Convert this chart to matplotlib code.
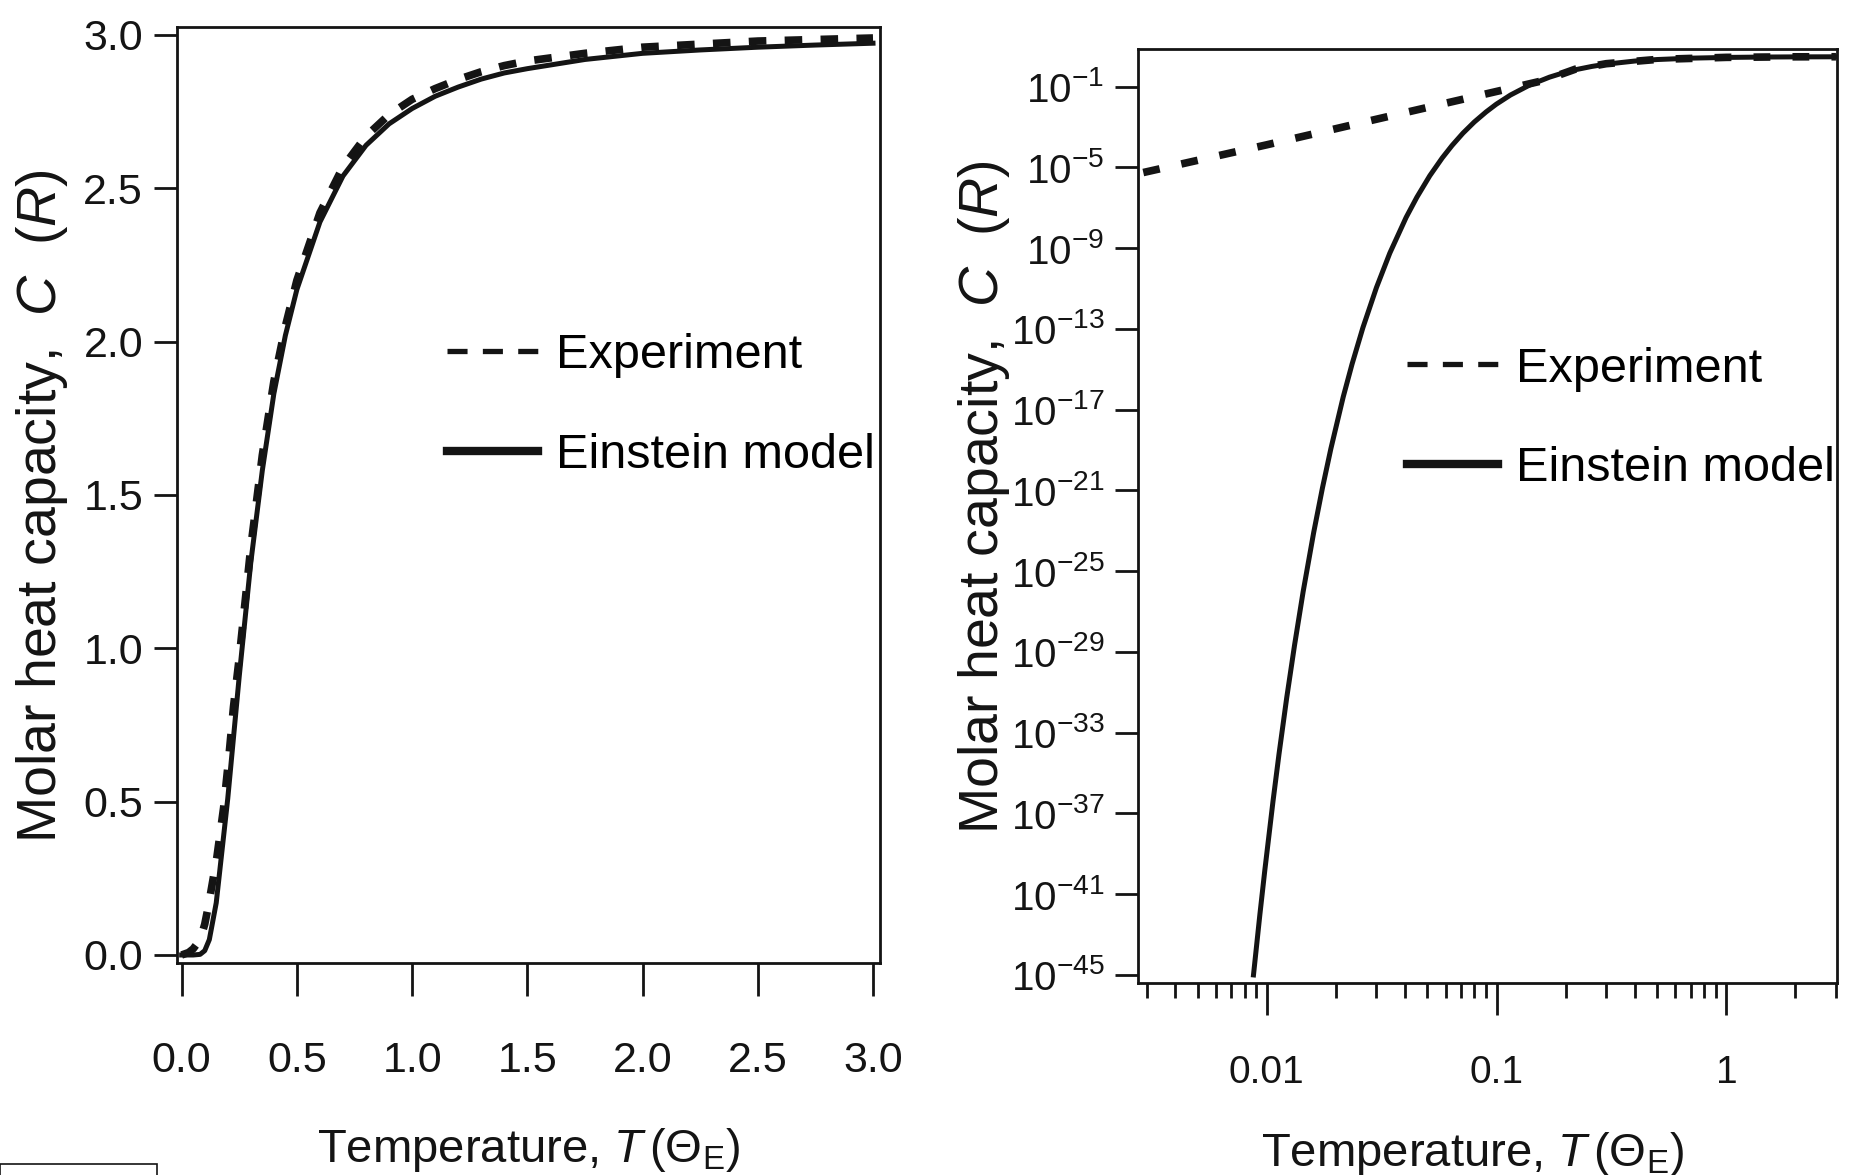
import numpy as np
import matplotlib
matplotlib.use('Agg')
import matplotlib.pyplot as plt
from matplotlib.ticker import FixedLocator, NullLocator, LogLocator, NullFormatter
from matplotlib.lines import Line2D
from matplotlib.patches import Rectangle

# ---------------- data ----------------
# Left panel: linear axes
T_lin_model = [0.0, 0.05, 0.08, 0.10, 0.12, 0.15, 0.20, 0.25, 0.30, 0.35, 0.40, 0.45,
               0.50, 0.60, 0.70, 0.80, 0.90, 1.00, 1.10, 1.20, 1.30, 1.40, 1.50, 1.75,
               2.00, 2.25, 2.50, 2.75, 3.00]
C_lin_model = [0.0, 0.0, 0.002, 0.014, 0.05, 0.17, 0.51, 0.91, 1.28, 1.58, 1.83, 2.02,
               2.17, 2.39, 2.54, 2.64, 2.71, 2.76, 2.80, 2.83, 2.856, 2.876, 2.89, 2.92,
               2.94, 2.951, 2.96, 2.967, 2.973]
T_lin_exp = [0.0, 0.03, 0.05, 0.08, 0.10, 0.116, 0.153, 0.182, 0.204, 0.225, 0.25, 0.30,
             0.35, 0.40, 0.45, 0.50, 0.60, 0.70, 0.80, 0.90, 1.00, 1.10, 1.20, 1.30, 1.40,
             1.50, 1.75, 2.00, 2.25, 2.50, 2.75, 3.00]
C_lin_exp = [0.0, 0.008, 0.02, 0.05, 0.10, 0.16, 0.32, 0.48, 0.64, 0.81, 0.97, 1.33,
             1.63, 1.87, 2.05, 2.20, 2.42, 2.57, 2.67, 2.74, 2.79, 2.825, 2.855, 2.88, 2.90,
             2.915, 2.94, 2.96, 2.97, 2.98, 2.985, 2.99]

# Right panel: log-log axes
T_log_model = [0.00875, 0.00933, 0.0098, 0.01064, 0.0113, 0.0122, 0.0132, 0.01439, 0.016,
               0.01746, 0.019, 0.0215, 0.0235, 0.0262, 0.030, 0.0343, 0.0404, 0.045, 0.0512,
               0.058, 0.064, 0.0714, 0.080, 0.090, 0.0997, 0.115, 0.139, 0.17, 0.195, 0.222,
               0.26, 0.30, 0.40, 0.50, 0.70, 1.0, 1.5, 2.0, 3.0]
C_log_model = [1.0e-45, 1.0e-42, 1.5e-40, 4.0e-37, 8.7e-35, 5.1e-32, 2.1e-29, 9.5e-27, 8.3e-24,
               1.3e-21, 1.15e-19, 4.2e-17, 1.8e-15, 1.15e-13, 1.1e-11, 5.6e-10, 3.3e-8, 3.3e-7,
               3.8e-6, 2.9e-5, 1.2e-4, 4.9e-4, 1.75e-3, 5.5e-3, 1.33e-2, 0.038, 0.117, 0.291,
               0.474, 0.69, 0.99, 1.28, 1.83, 2.17, 2.54, 2.76, 2.89, 2.94, 2.97]
T_log_exp = [0.0029, 0.01, 0.03, 0.10, 0.16, 0.22, 0.30, 0.50, 1.0, 2.0, 3.0]
C_log_exp = [5.5e-6, 1.3e-4, 2.4e-3, 0.057, 0.198, 0.72, 1.35, 2.20, 2.78, 2.96, 2.98]

lin_ticks = [0.0, 0.5, 1.0, 1.5, 2.0, 2.5, 3.0]
lin_tick_labels = ['0.0', '0.5', '1.0', '1.5', '2.0', '2.5', '3.0']
log_x_ticks = [0.01, 0.1, 1]
log_x_labels = ['0.01', '0.1', '1']
log_y_exponents = [-1, -5, -9, -13, -17, -21, -25, -29, -33, -37, -41, -45]
legend_labels = ['Experiment', 'Einstein model']
x_label = r'Temperature, $T\,(\Theta_{\mathrm{E}})$'
y_label = r'Molar heat capacity,  $C$  ($R$)'

# ---------------- fonts ----------------
font = 'Liberation Sans'
plt.rcParams['font.family'] = [font, 'DejaVu Sans']
plt.rcParams['mathtext.fontset'] = 'custom'
plt.rcParams['mathtext.rm'] = font
plt.rcParams['mathtext.it'] = font + ':italic'
plt.rcParams['mathtext.bf'] = font + ':bold'

ink = '#141414'
fig = plt.figure(figsize=(18.54, 11.75), dpi=100)
fig.patch.set_facecolor('white')

# ---------------- left panel ----------------
ax1 = fig.add_axes([0.0955, 0.1802, 0.4746 - 0.0955, 0.9768 - 0.1802])
ax1.plot(T_lin_exp, C_lin_exp, color=ink, lw=5.5, dashes=(2.3, 2.4), zorder=2,
         dash_capstyle='butt')
ax1.plot(T_lin_model, C_lin_model, color=ink, lw=3.6, zorder=3)
ax1.set_xlim(-0.02, 3.03)
ax1.set_ylim(-0.027, 3.025)
ax1.set_xticks(lin_ticks)
ax1.set_xticklabels(lin_tick_labels)
ax1.set_yticks(lin_ticks)
ax1.set_yticklabels(lin_tick_labels)
ax1.tick_params(axis='x', direction='out', length=24, width=2, pad=32, labelsize=31, colors=ink)
ax1.tick_params(axis='y', direction='out', length=16.5, width=2, pad=8, labelsize=31, colors=ink)

# ---------------- right panel ----------------
ax2 = fig.add_axes([0.614, 0.1634, 0.9908 - 0.614, 0.9585 - 0.1634])
ax2.set_xscale('log')
ax2.set_yscale('log')
ax2.plot(T_log_exp, C_log_exp, color=ink, lw=5.5, dashes=(2.2, 2.9), zorder=2,
         dash_capstyle='butt')
ax2.plot(T_log_model, C_log_model, color=ink, lw=3.6, zorder=3)
ax2.set_xlim(0.00276, 3.03)
ax2.set_ylim(10 ** -45.4, 10 ** 0.87)
ax2.xaxis.set_major_locator(FixedLocator(log_x_ticks))
ax2.set_xticklabels(log_x_labels)
ax2.xaxis.set_minor_locator(LogLocator(base=10, subs=np.arange(2, 10), numticks=20))
ax2.xaxis.set_minor_formatter(NullFormatter())
ax2.yaxis.set_major_locator(FixedLocator([10.0 ** e for e in log_y_exponents]))
ax2.set_yticklabels([r'$\mathregular{10^{%d}}$' % e for e in log_y_exponents])
ax2.yaxis.set_minor_locator(NullLocator())
ax2.tick_params(axis='x', which='major', direction='out', length=23, width=2, pad=29,
                labelsize=28, colors=ink)
ax2.tick_params(axis='x', which='minor', direction='out', length=11, width=2, colors=ink)
ax2.tick_params(axis='y', direction='out', length=16.5, width=2, pad=8, labelsize=29, colors=ink)

for ax in (ax1, ax2):
    for s in ax.spines.values():
        s.set_linewidth(2)
        s.set_color(ink)

# ---------------- legends ----------------
def add_legend(ax, anchor):
    h = [Line2D([], [], color=ink, lw=3.8, dashes=(3.8, 2.9)),
         Line2D([], [], color=ink, lw=6.0)]
    ax.legend(h, legend_labels, loc='center left', bbox_to_anchor=anchor, frameon=False,
              prop={'family': font, 'size': 35}, handlelength=1.87, handletextpad=0.37,
              labelspacing=1.12, borderpad=0, borderaxespad=0)

add_legend(ax1, (0.384, 0.596))
add_legend(ax2, (0.385, 0.604))

# ---------------- axis labels ----------------
fig.text(0.2853, 0.0111, x_label, ha='center', va='baseline', fontsize=34, color=ink)
fig.text(0.794, 0.0077, x_label, ha='center', va='baseline', fontsize=34, color=ink)
fig.text(0.0227, 0.569, y_label, ha='center', va='center', rotation=90, fontsize=40, color=ink)
fig.text(0.531, 0.577, y_label, ha='center', va='center', rotation=90, fontsize=40, color=ink)

# scan artifact box at lower-left
fig.patches.append(Rectangle((0.0, -0.01), 157 / 1854, 0.0194, transform=fig.transFigure,
                             fill=False, lw=1.2, ec=ink))

fig.savefig('out.png', dpi=100, facecolor='white')
